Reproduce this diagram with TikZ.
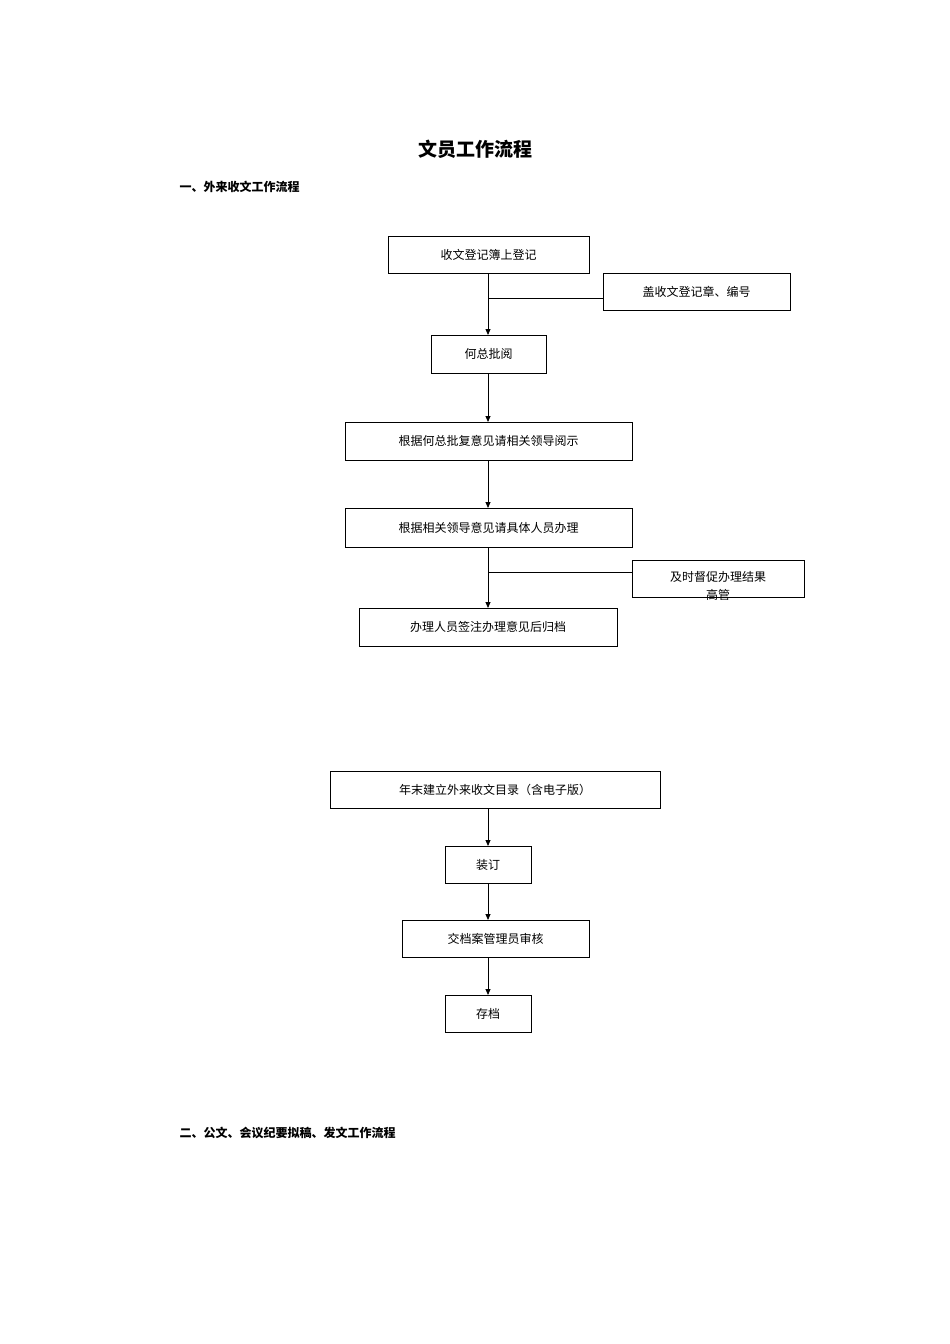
\documentclass[tikz,border=0pt]{standalone}
\usepackage{fontspec}
\setmainfont{Noto Sans CJK SC}
\usetikzlibrary{arrows.meta}
\begin{document}
\begin{tikzpicture}[x=1pt,y=-1pt,
  bx/.style={draw,line width=0.9pt,inner sep=0pt},
  tx/.style={font=\fontsize{12}{14}\selectfont},
  arr/.style={-{Triangle[length=6pt,width=5pt]},line width=0.8pt},
  ln/.style={line width=0.8pt}]
\useasboundingbox (0,0) rectangle (950,1344);
\node[font=\fontsize{19}{22}\selectfont\bfseries] (title) at (475,149) {文员工作流程};
\node[anchor=west,font=\fontsize{12}{14}\selectfont\bfseries] (h1) at (176,187) {一、外来收文工作流程};
\node[anchor=west,font=\fontsize{12}{14}\selectfont\bfseries] (h2) at (176,1133) {二、公文、会议纪要拟稿、发文工作流程};
\newcommand{\mybox}[6]{\draw[bx] (#2,#3) rectangle (#4,#5); \coordinate (#1) at ({(#2+#4)/2},{(#3+#5)/2});
 \coordinate (#1t) at (488,#3); \coordinate (#1b) at (488,#5); \node[tx] (#1x) at (#1) {#6};}
\mybox{b1}{388}{236}{589}{273}{收文登记簿上登记}
\mybox{b2}{603}{273}{790}{310}{盖收文登记章、编号}
\mybox{b3}{431}{335}{546}{373}{何总批阅}
\mybox{b4}{345}{422}{632}{460}{根据何总批复意见请相关领导阅示}
\mybox{b5}{345}{508}{632}{547}{根据相关领导意见请具体人员办理}
\draw[bx] (632,560) rectangle (804,597);
\node[tx] (b6a) at (718,577) {及时督促办理结果};
\node[tx] (b6b) at (718,595) {高管};
\mybox{b7}{359}{608}{617}{646}{办理人员签注办理意见后归档}
\mybox{b8}{330}{771}{660}{808}{年末建立外来收文目录（含电子版）}
\mybox{b9}{445}{846}{531}{883}{装订}
\mybox{b10}{402}{920}{589}{957}{交档案管理员审核}
\mybox{b11}{445}{995}{531}{1032}{存档}
\coordinate (j1) at (488,298); \coordinate (e1) at (603,298);
\coordinate (j2) at (488,572); \coordinate (e2) at (632,572);
\draw[ln] (j1) -- (e1);
\draw[ln] (j2) -- (e2);
\draw[arr] (b1b) -- (b3t);
\draw[arr] (b3b) -- (b4t);
\draw[arr] (b4b) -- (b5t);
\draw[arr] (b5b) -- (b7t);
\draw[arr] (b8b) -- (b9t);
\draw[arr] (b9b) -- (b10t);
\draw[arr] (b10b) -- (b11t);
\end{tikzpicture}
\end{document}
